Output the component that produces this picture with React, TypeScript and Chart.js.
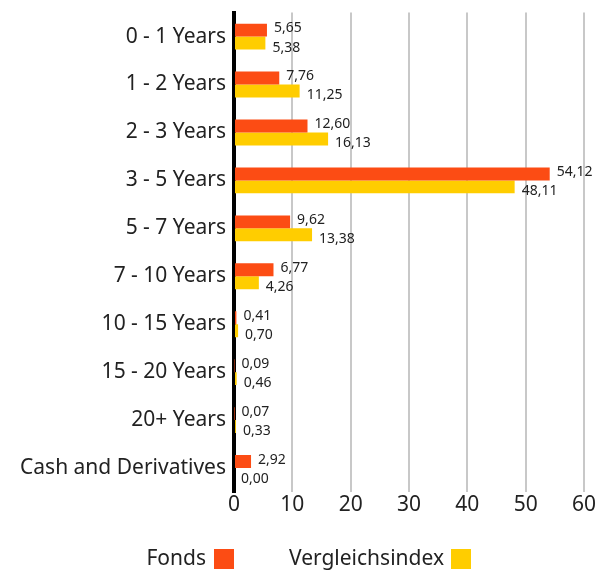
import React, { useEffect, useRef } from "react";
import { Chart, registerables } from "chart.js";

Chart.register(...registerables);

const categories = [
  "0 - 1 Years",
  "1 - 2 Years",
  "2 - 3 Years",
  "3 - 5 Years",
  "5 - 7 Years",
  "7 - 10 Years",
  "10 - 15 Years",
  "15 - 20 Years",
  "20+ Years",
  "Cash and Derivatives",
];
const fondsValues = [5.65, 7.76, 12.6, 54.12, 9.62, 6.77, 0.41, 0.09, 0.07, 2.92];
const indexValues = [5.38, 11.25, 16.13, 48.11, 13.38, 4.26, 0.7, 0.46, 0.33, 0.0];
const seriesNames = ["Fonds", "Vergleichsindex"];
const xTicks = [0, 10, 20, 30, 40, 50, 60];

const ORANGE = "#FC4C14";
const YELLOW = "#FFCD00";
const FONT = "'Noto Sans', sans-serif";

const labelPlugin = {
  id: "valueLabels",
  afterDatasetsDraw(chart: any) {
    const ctx = chart.ctx;
    ctx.save();
    ctx.font = `14px ${FONT}`;
    ctx.fillStyle = "#222";
    ctx.textAlign = "left";
    ctx.textBaseline = "middle";
    chart.data.datasets.forEach((ds: any, di: number) => {
      const meta = chart.getDatasetMeta(di);
      meta.data.forEach((bar: any, i: number) => {
        const v = ds.data[i] as number;
        const txt = v.toFixed(2).replace(".", ",");
        const dy = di === 0 ? -2 : 4.5;
        ctx.fillText(txt, bar.x + 7, bar.y + dy);
      });
    });
    ctx.restore();
  },
};

const legendPlugin = {
  id: "customLegend",
  afterDraw(chart: any) {
    const ctx = chart.ctx;
    ctx.save();
    ctx.font = `21px ${FONT}`;
    ctx.fillStyle = "#222";
    ctx.textBaseline = "middle";
    ctx.textAlign = "right";
    const y = 559;
    ctx.fillText(seriesNames[0], 206, y);
    ctx.fillStyle = ORANGE;
    ctx.fillRect(214, 549, 20, 20);
    ctx.fillStyle = "#222";
    ctx.fillText(seriesNames[1], 444, y);
    ctx.fillStyle = YELLOW;
    ctx.fillRect(451, 549, 20, 20);
    ctx.restore();
  },
};

export default function App() {
  const ref = useRef<HTMLCanvasElement>(null);
  useEffect(() => {
    if (!ref.current) return;
    const chart = new Chart(ref.current, {
      type: "bar",
      data: {
        labels: categories,
        datasets: [
          {
            label: seriesNames[0],
            data: fondsValues,
            backgroundColor: ORANGE,
            barPercentage: 1,
            categoryPercentage: 0.54,
          },
          {
            label: seriesNames[1],
            data: indexValues,
            backgroundColor: YELLOW,
            barPercentage: 1,
            categoryPercentage: 0.54,
          },
        ],
      },
      options: {
        indexAxis: "y",
        animation: false,
        responsive: false,
        layout: { padding: { top: 6, right: 24, bottom: 52, left: 0 } },
        plugins: {
          legend: { display: false },
          tooltip: { enabled: false },
        },
        scales: {
          x: {
            min: 0,
            max: 60,
            afterBuildTicks: (scale: any) => {
              scale.ticks = xTicks.map((v) => ({ value: v }));
            },
            afterFit: (scale: any) => {
              scale.height = 30;
            },
            grid: { color: "#c8c8c8", lineWidth: 2, drawTicks: false },
            border: { display: false },
            ticks: {
              color: "#222",
              font: { family: FONT, size: 21 },
              padding: 0,
            },
          },
          y: {
            afterFit: (scale: any) => {
              scale.width = 234;
            },
            grid: { display: false },
            border: { display: true, color: "#000", width: 4 },
            ticks: {
              color: "#222",
              font: { family: FONT, size: 21 },
              padding: 0,
            },
          },
        },
      },
      plugins: [labelPlugin, legendPlugin],
    });
    return () => chart.destroy();
  }, []);
  return (
    <div style={{ position: "fixed", left: 0, top: 0, width: 608, height: 574, background: "#fff" }}>
      <canvas ref={ref} width={608} height={574} />
    </div>
  );
}
